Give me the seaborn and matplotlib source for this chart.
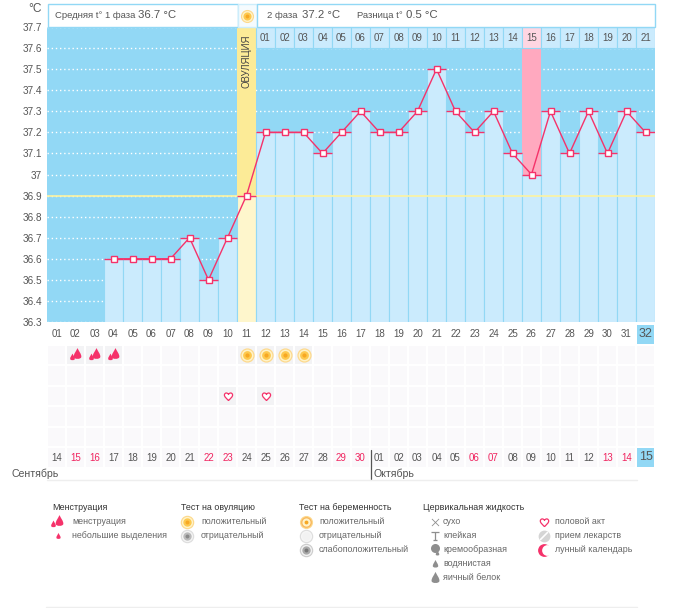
"""Basal temperature chart: two-phase cycle with marker rows and legend below."""

import matplotlib

matplotlib.use("Agg")

import matplotlib.pyplot as plt
import numpy as np
import pandas as pd
import seaborn as sns
from matplotlib.colors import ListedColormap
from matplotlib.patches import Rectangle
from matplotlib.path import Path

# --- data ---
CYCLE_DAYS = [f"{d:02d}" for d in range(1, 33)]
TEMPS = [
    np.nan, np.nan, np.nan, 36.6, 36.6, 36.6, 36.6, 36.7, 36.5, 36.7, 36.9,
    37.2, 37.2, 37.2, 37.1, 37.2, 37.3, 37.2, 37.2, 37.3, 37.5, 37.3,
    37.2, 37.3, 37.1, 37.0, 37.3, 37.1, 37.3, 37.1, 37.3, 37.2,
]
Y_TICKS = [37.7, 37.6, 37.5, 37.4, 37.3, 37.2, 37.1, 37, 36.9, 36.8, 36.7, 36.6, 36.5, 36.4, 36.3]
Y_LABELS = ["37.7", "37.6", "37.5", "37.4", "37.3", "37.2", "37.1", "37",
            "36.9", "36.8", "36.7", "36.6", "36.5", "36.4", "36.3"]
PHASE2_LABELS = [f"{d:02d}" for d in range(1, 22)]
DATE_LABELS = ["14", "15", "16", "17", "18", "19", "20", "21", "22", "23", "24", "25",
               "26", "27", "28", "29", "30", "01", "02", "03", "04", "05", "06", "07",
               "08", "09", "10", "11", "12", "13", "14", "15"]
RED_DATE_DAYS = [2, 3, 9, 10, 16, 17, 23, 24, 30, 31]
OVULATION_DAY = 11
HIGH_DAY = 26
PERIOD_DAYS = [2, 3, 4]
OVU_TEST_DAYS = [11, 12, 13, 14]
SEX_DAYS = [10, 12]

LEGEND_TITLES = ["Менструация", "Тест на овуляцию", "Тест на беременность", "Цервикальная жидкость"]
LEGEND_PERIOD = ["менструация", "небольшие выделения"]
LEGEND_OVU = ["положительный", "отрицательный"]
LEGEND_PREG = ["положительный", "отрицательный", "слабоположительный"]
LEGEND_FLUID = ["сухо", "клейкая", "кремообразная", "водянистая", "яичный белок"]
LEGEND_OTHER = ["половой акт", "прием лекарств", "лунный календарь"]

# --- colours ---
BLUE = "#92D8F5"
LIGHT = "#CBEBFD"
PINK_LINE = "#F5326A"
PINK_COL = "#FFA9BF"
PINK_CELL = "#FFD6E2"
YELLOW = "#FCEB97"
PALE_YELLOW = "#FEF6CC"
TEXT = "#555555"
RED = "#F0245F"

W, H = 693, 608
CELL_W = 608 / 32
CELL_H = 144 / 7

DROP = Path(
    [(0, 1), (0.25, 0.45), (0.6, 0.1), (0.6, -0.35), (0.6, -0.8), (-0.6, -0.8),
     (-0.6, -0.35), (-0.6, 0.1), (-0.25, 0.45), (0, 1)],
    [Path.MOVETO] + [Path.CURVE4] * 9,
)
HEART = Path(
    [(0, -1), (-0.5, -0.45), (-1, -0.1), (-1, 0.35), (-1, 0.95), (-0.25, 1.05), (0, 0.5),
     (0.25, 1.05), (1, 0.95), (1, 0.35), (1, -0.1), (0.5, -0.45), (0, -1)],
    [Path.MOVETO] + [Path.CURVE4] * 12,
)
IBEAM = Path(
    [(-1, 1), (1, 1), (0, 1), (0, -1), (-0.6, -1), (0.6, -1)],
    [Path.MOVETO, Path.LINETO, Path.MOVETO, Path.LINETO, Path.MOVETO, Path.LINETO],
)


def axes_px(left, top, right, bottom):
    """Axes placed by pixel box of the final image."""
    return [left / W, 1 - bottom / H, (right - left) / W, (bottom - top) / H]


def draw_sun(ax, x, y, scale=1.0, colors=("#FDD98C", "#FFF3C9", "#FDC94F", "#F7A823")):
    for size, color in zip((105, 72, 40, 9), colors):
        ax.scatter([x], [y], s=size * scale, color=color, linewidths=0, zorder=5)


def draw_drops(ax, x, y, ux=1.0, uy=1.0, color=PINK_LINE):
    """Big and small drop; ux/uy are pixels per data unit of the axes."""
    ax.scatter([x + 1.5 / ux], [y - 1 / uy], marker=DROP, s=85, color=color, linewidths=0, zorder=5)
    ax.scatter([x - 4 / ux], [y + 2 / uy], marker=DROP, s=32, color=color, linewidths=0, zorder=5)


def draw_main(fig):
    ax = fig.add_axes(axes_px(47, 27, 655, 322))
    ax.set_facecolor(BLUE)
    positions = np.arange(len(CYCLE_DAYS))

    ax.set_axisbelow(True)
    ax.grid(axis="y", color="white", linestyle=(0, (1, 2)), linewidth=1)
    ax.grid(axis="x", visible=False)

    # full-height columns for ovulation and the high day, behind the day bars
    ovu = OVULATION_DAY - 1
    high = HIGH_DAY - 1
    ax.bar([ovu], [37.7], width=1, color=YELLOW, linewidth=0)
    ax.bar([high], [37.6], width=1, color=PINK_COL, linewidth=0)

    df = pd.DataFrame({"day": CYCLE_DAYS, "temp": TEMPS})
    palette = {d: LIGHT for d in CYCLE_DAYS}
    palette[CYCLE_DAYS[ovu]] = PALE_YELLOW
    sns.barplot(
        data=df, x="day", y="temp", hue="day", order=CYCLE_DAYS, palette=palette,
        width=1, dodge=False, legend=False, saturation=1,
        edgecolor=BLUE, linewidth=0.8, ax=ax,
    )

    # numbered header row of the second phase
    head_pos = positions[OVULATION_DAY:]
    head_colors = [PINK_CELL if p == high else LIGHT for p in head_pos]
    ax.bar(head_pos, [0.1] * len(head_pos), bottom=37.6, width=1, color=head_colors,
           edgecolor=BLUE, linewidth=0.8)
    for p, label in zip(head_pos, PHASE2_LABELS):
        ax.text(p, 37.65, label, ha="center", va="center", color=TEXT, fontsize=7)

    ax.axhline(36.9, color="#FDF3A0", linewidth=1.2, zorder=3)

    temps = np.array(TEMPS)
    ax.hlines(temps, positions - 0.5, positions + 0.5, color=PINK_LINE, linewidth=1, zorder=4)
    sns.lineplot(
        x=positions, y=temps, color=PINK_LINE, linewidth=1, marker="s", markersize=4.2,
        markerfacecolor="white", markeredgecolor=PINK_LINE, markeredgewidth=1,
        errorbar=None, ax=ax, zorder=5,
    )

    ax.text(ovu + 0.02, 37.539, "ОВУЛЯЦИЯ", rotation=90, ha="center", va="center",
            color="#444444", fontsize=6.9)

    ax.set_xlim(-0.5, len(CYCLE_DAYS) - 0.5)
    ax.set_ylim(36.3, 37.7)
    ax.set_xticks([])
    ax.set_xlabel("")
    ax.set_ylabel("")
    ax.set_yticks(Y_TICKS, Y_LABELS)
    ax.tick_params(axis="y", length=0, pad=3.5, labelsize=7.2, labelcolor=TEXT)
    sns.despine(ax=ax, left=True, bottom=True)


def draw_cells(fig):
    ax = fig.add_axes(axes_px(47, 324, 655, 468))
    n = len(CYCLE_DAYS)
    cells = np.ones((7, n), dtype=int)
    cells[0, :] = 0
    cells[0, -1] = 3
    cells[6, -1] = 3
    for day in PERIOD_DAYS:
        cells[1, day - 1] = 2
    for day in OVU_TEST_DAYS:
        cells[1, day - 1] = 2
    for day in SEX_DAYS:
        cells[3, day - 1] = 2

    sns.heatmap(
        pd.DataFrame(cells, columns=CYCLE_DAYS),
        cmap=ListedColormap(["#FFFFFF", "#FAF9FB", "#F3F3F5", BLUE]),
        vmin=0, vmax=3, cbar=False, linewidths=1.4, linecolor="white",
        xticklabels=False, yticklabels=False, ax=ax,
    )
    ax.set_xlabel("")
    ax.set_ylabel("")

    for i, label in enumerate(CYCLE_DAYS):
        last = i == n - 1
        ax.text(i + 0.5, 0.5, label, ha="center", va="center", color=TEXT,
                fontsize=9 if last else 7)
    for i, label in enumerate(DATE_LABELS):
        red = (i + 1) in RED_DATE_DAYS
        last = i == n - 1
        ax.text(i + 0.5, 6.5 - (0.05 if last else 0), label, ha="center", va="center",
                color=RED if red else TEXT, fontsize=9 if last else 7)

    for day in PERIOD_DAYS:
        draw_drops(ax, day - 0.5, 1.5, ux=CELL_W, uy=CELL_H)
    for day in OVU_TEST_DAYS:
        draw_sun(ax, day - 0.5, 1.5)
    ax.scatter([d - 0.5 for d in SEX_DAYS], [3.5] * len(SEX_DAYS), marker=HEART, s=38,
               facecolor="white", edgecolor=PINK_LINE, linewidths=0.9, zorder=5)


def draw_overlay(fig):
    """Header strip, month labels and legend, placed in image pixels."""
    ax = fig.add_axes([0, 0, 1, 1])
    ax.set_xlim(0, W)
    ax.set_ylim(H, 0)
    ax.axis("off")
    ax.patch.set_alpha(0)

    ax.add_patch(Rectangle((47.5, 3.5), 190, 23.5, facecolor="white", edgecolor=BLUE, linewidth=1))
    ax.add_patch(Rectangle((237.5, 3.5), 19, 23.5, facecolor="#F5FBFE", edgecolor="#CDEDFB", linewidth=1))
    ax.add_patch(Rectangle((256.5, 3.5), 398, 23.5, facecolor="white", edgecolor=BLUE, linewidth=1))
    draw_sun(ax, 247, 16, scale=0.85)

    def label(x, y, s, size=6.4, color=TEXT, **kw):
        ax.text(x, y, s, fontsize=size, color=color, ha="left", va="center", **kw)

    label(55, 15.5, "Средняя t° 1 фаза", size=6.8)
    label(138, 15.5, "36.7 °C", size=8.2)
    label(267, 15.5, "2 фаза", size=6.8)
    label(302, 15.5, "37.2 °C", size=8.2)
    label(357, 15.5, "Разница t°", size=6.8)
    label(406, 15.5, "0.5 °C", size=8.2)
    label(28, 8.5, "°C", size=8.6)

    label(12, 474, "Сентябрь", size=7.6)
    label(374, 474, "Октябрь", size=7.6)
    ax.plot([370.5, 370.5], [450, 479], color="#555555", linewidth=0.9)
    ax.plot([47, 637], [479.5, 479.5], color="#EEEEEE", linewidth=1)
    ax.plot([46, 637], [607, 607], color="#EEEEEE", linewidth=1)

    # legend
    for x, title in zip((52, 181, 299, 423), LEGEND_TITLES):
        label(x, 508, title, size=6.4, color="#333333")
    rows = [522, 536, 550, 564, 578]
    item = dict(size=6.4, color="#666666")
    for y, s in zip(rows, LEGEND_PERIOD):
        label(72, y, s, **item)
    for y, s in zip(rows, LEGEND_OVU):
        label(201, y, s, **item)
    for y, s in zip(rows, LEGEND_PREG):
        label(319, y, s, **item)
    for y, s in zip(rows, LEGEND_FLUID):
        label(443, y, s, **item)
    for y, s in zip(rows, LEGEND_OTHER):
        label(555, y, s, **item)

    draw_drops(ax, 57, rows[0])
    ax.scatter([57.5], [rows[1]], marker=DROP, s=26, color=PINK_LINE, linewidths=0)

    draw_sun(ax, 187, rows[0], scale=0.9)
    draw_sun(ax, 187, rows[1], scale=0.9, colors=("#DDDDDD", "#F4F4F4", "#BBBBBB", "#888888"))
    draw_sun(ax, 306, rows[0], scale=0.85, colors=("#FDD98C", "#F8B860", "#FFF3C9", "#F7A823"))
    draw_sun(ax, 306, rows[1], scale=0.9, colors=("#DDDDDD", "#F6F6F6", "#F2F2F2", "#F2F2F2"))
    draw_sun(ax, 306, rows[2], scale=0.9, colors=("#CCCCCC", "#F2F2F2", "#AAAAAA", "#777777"))

    gray = "#8E8E8E"
    ax.scatter([435], [rows[0]], marker="x", s=26, color=gray, linewidths=0.6)
    ax.scatter([435], [rows[1]], marker=IBEAM, s=30, facecolor="none", edgecolor=gray, linewidths=0.9)
    ax.scatter([435], [rows[2] - 2], s=42, color=gray, linewidths=0)
    ax.scatter([437], [rows[2] + 3], marker=DROP, s=18, color=gray, linewidths=0)
    ax.scatter([435], [rows[3]], marker=DROP, s=42, color=gray, linewidths=0)
    ax.scatter([435], [rows[4]], marker=DROP, s=90, color=gray, linewidths=0)

    ax.scatter([544], [rows[0]], marker=HEART, s=40, facecolor="white", edgecolor=PINK_LINE, linewidths=0.9)
    ax.scatter([544], [rows[1]], s=72, color="#D5D5D5", linewidths=0)
    ax.plot([540.5, 547.5], [rows[1] + 3.5, rows[1] - 3.5], color="white", linewidth=1.2)
    ax.scatter([544], [rows[2]], s=85, color="#F5326A", linewidths=0, zorder=2)
    ax.scatter([547], [rows[2]], s=60, color="white", linewidths=0, zorder=3)


def main() -> None:
    sns.set_theme(style="white")
    plt.rcParams["font.family"] = ["Liberation Sans", "DejaVu Sans"]

    fig = plt.figure(figsize=(W / 100, H / 100), dpi=100, facecolor="white")
    draw_main(fig)
    draw_cells(fig)
    draw_overlay(fig)
    fig.savefig("out.png", dpi=100)
    plt.close("all")


if __name__ == "__main__":
    main()
